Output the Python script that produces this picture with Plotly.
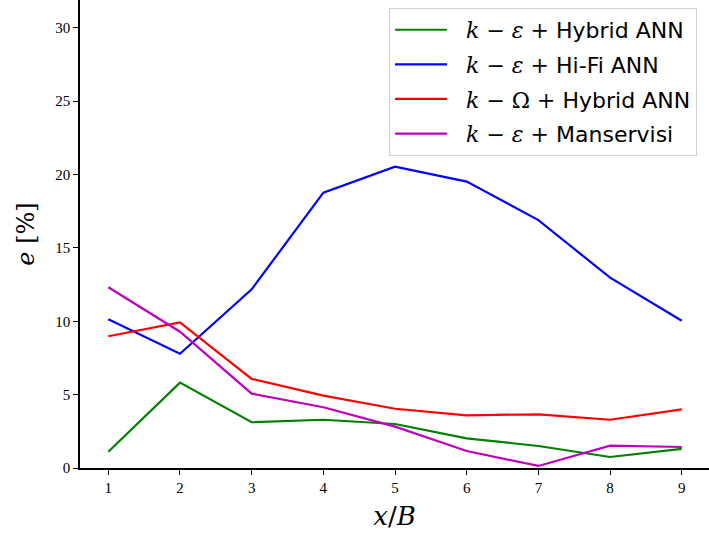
import plotly.graph_objects as go

x_vals = [1, 2, 3, 4, 5, 6, 7, 8, 9]
green_hybrid = [1.11, 5.82, 3.12, 3.29, 3.00, 2.02, 1.50, 0.75, 1.30]
blue_hifi = [10.14, 7.79, 12.18, 18.77, 20.54, 19.52, 16.90, 12.97, 10.04]
red_omega = [8.98, 9.93, 6.07, 4.93, 4.04, 3.59, 3.66, 3.29, 4.00]
magenta_mans = [12.32, 9.29, 5.07, 4.14, 2.82, 1.16, 0.14, 1.52, 1.43]

x_ticks = [1, 2, 3, 4, 5, 6, 7, 8, 9]
y_ticks = [0, 5, 10, 15, 20, 25, 30]

M = '&nbsp;&nbsp;<span style="font-family:\'DejaVu Serif\'">'
names = [
    M + '<i>k</i> − <i>ε</i> + </span>Hybrid ANN',
    M + '<i>k</i> − <i>ε</i> + </span>Hi-Fi ANN',
    M + '<i>k</i> − Ω + </span>Hybrid ANN',
    M + '<i>k</i> − <i>ε</i> + </span>Manservisi',
]
series = [green_hybrid, blue_hifi, red_omega, magenta_mans]
colors = ['#008000', '#0000ff', '#ff0000', '#bf00bf']

fig = go.Figure()
for i, (n, s, c) in enumerate(zip(names, series, colors)):
    fig.add_trace(go.Scatter(x=x_vals, y=s, mode='lines', name=n, legendgroup=f'g{i}',
                             line=dict(color=c, width=2.2)))

fig.update_layout(
    width=709, height=537,
    margin=dict(l=80, r=0, t=0, b=69),
    paper_bgcolor='white', plot_bgcolor='white',
    font=dict(family='Liberation Serif', color='black', size=15),
    showlegend=True,
    legend=dict(x=0.981, y=0.983, xanchor='right', yanchor='top',
                bgcolor='rgba(255,255,255,0.85)', bordercolor='#d0d0d0', borderwidth=1,
                font=dict(family='DejaVu Sans', size=22, color='black'),
                traceorder='grouped', tracegroupgap=3, itemwidth=52),
)
fig.update_xaxes(range=[0.605, 9.38], tickvals=x_ticks, ticks='outside', ticklen=5,
                 tickwidth=1.2, tickcolor='black', showline=True, linecolor='black',
                 linewidth=1.5, showgrid=False, zeroline=False,
                 tickfont=dict(family='Liberation Serif', size=15),
                 title=dict(text='<i>x</i>/<i>B</i>', font=dict(family='DejaVu Serif', size=26),
                            standoff=12))
fig.update_yaxes(range=[0, 31.9], tickvals=y_ticks, ticks='outside', ticklen=5,
                 tickwidth=1.2, tickcolor='black', showline=True, linecolor='black',
                 linewidth=1.5, showgrid=False, zeroline=False,
                 tickfont=dict(family='Liberation Serif', size=15),
                 title=dict(text='<i>e</i> [%]', font=dict(family='DejaVu Serif', size=24),
                            standoff=14))

fig.write_html('out.html')
